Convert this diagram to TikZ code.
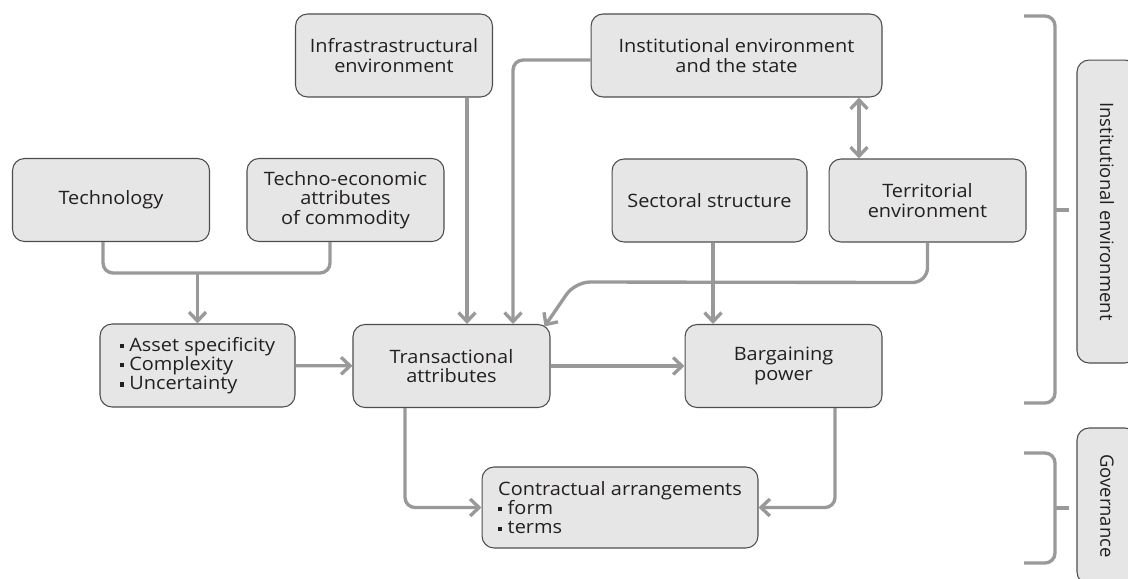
\documentclass[tikz,border=0pt]{standalone}
\usepackage{fontspec}
\setmainfont[FakeStretch=1.08]{Open Sans}
\newfontfamily\sidefont{Open Sans}
\usepackage{xcolor}
\usetikzlibrary{arrows.meta}

\definecolor{boxfill}{HTML}{E6E6E6}
\definecolor{boxline}{HTML}{4D4D4D}
\definecolor{linkgray}{HTML}{999999}
\definecolor{inkdark}{HTML}{231F20}
\newcommand{\sqbullet}{\raisebox{0.3ex}{\rule{2.4pt}{2.4pt}}\hspace{3pt}}

\begin{document}
\begin{tikzpicture}[
      x=0.02cm, y=-0.02cm,
      box/.style={draw=boxline, fill=boxfill, rounded corners=0.24cm, align=center,
        minimum width=3.94cm, minimum height=1.66cm, text=inkdark,
        font=\fontsize{10.5}{11}\selectfont, line width=0.6pt},
      sidebox/.style={box, rotate=-90, minimum height=1.2cm,
        font=\sidefont\fontsize{10.5}{11}\selectfont},
      link/.style={draw=linkgray, line width=1.9pt, rounded corners=0.2cm},
      arr/.style={link, -{Straight Barb[length=1.8mm, width=3.4mm]}},
      biarr/.style={link, {Straight Barb[length=1.8mm, width=3.4mm]}-{Straight Barb[length=1.8mm, width=3.4mm]}},
      brace/.style={link, line cap=butt}
    ]
    \useasboundingbox (0,0) rectangle (1128,578);

    \node[box] (infra) at (394,55.5) {Infrastrastructural\\environment};
    \node[box, minimum width=5.82cm] (state) at (736.5,55.5) {Institutional environment\\and the state};
    \node[box] (tech) at (111,200) {Technology};
    \node[box] (commodity) at (345.5,200) {Techno-economic\\attributes\\of commodity};
    \node[box, minimum width=3.9cm] (sector) at (709.5,200.5) {Sectoral structure};
    \node[box] (territory) at (927.5,200.5) {Territorial\\environment};
    \node[box, minimum width=3.9cm, align=left] (asset) at (197.5,365.5)
      {\sqbullet Asset specificity\\ \sqbullet Complexity\\ \sqbullet Uncertainty};
    \node[box] (trans) at (451.5,366) {Transactional\\attributes};
    \node[box] (bargain) at (783.5,366) {Bargaining\\power};
    \node[box, minimum width=5.52cm, minimum height=1.62cm, align=left] (contract) at (620,507.5)
      {Contractual arrangements\\ \sqbullet form\\ \sqbullet terms};
    \node[sidebox, minimum width=6.06cm] (instenv) at (1107,211.5) {Institutional environment};
    \node[sidebox, minimum width=3.12cm] (govern) at (1107,506) {Governance};

    % technology and commodity join before the asset box
    \coordinate (merge) at (asset.north |- 0,273);
    \draw[link] ([xshift=-0.16cm]tech.south) |- (merge) -| ([xshift=-0.31cm]commodity.south);
    \draw[arr] (merge) -- (asset.north);

    \draw[arr] (asset) -- (trans);
    \draw[arr] (trans) -- (bargain);
    \draw[arr] (infra.south -| 467,0) -- (trans.north -| 467,0);
    \draw[arr] (state.west |- 0,60) -| (trans.north -| 513,0);
    \draw[biarr] (state.south -| 859,0) -- (territory.north -| 859,0);
    \draw[arr] (sector.south -| 713,0) -- (bargain.north -| 713,0);
    \draw[arr, rounded corners=0.3cm] (territory.south) -- ++(0,40) -- (575,282)
      -- ([xshift=-0.12cm, yshift=-0.05cm]trans.north east);
    \draw[arr] (trans.south -| 405,0) |- (contract.west);
    \draw[arr] (bargain.south -| 835,0) |- (contract.east);

    % brackets on the right
    \draw[brace] (1024,16) -- (1055,16) -- (1055,403) -- (1024,403);
    \draw[brace, shorten >=0.14cm] (1055,210) -- (instenv.south |- 0,210);
    \draw[brace] (1024,453) -- (1055,453) -- (1055,563) -- (1024,563);
    \draw[brace, shorten >=0.14cm] (1055,508) -- (govern.south |- 0,508);
  \end{tikzpicture}
\end{document}
